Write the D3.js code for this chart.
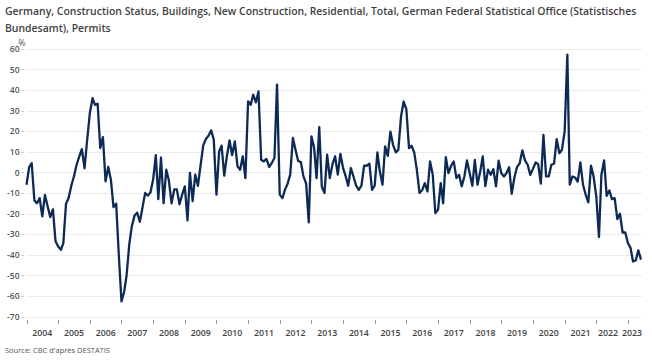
<!DOCTYPE html>
<html>
<head>
<meta charset="utf-8">
<script src="https://cdn.jsdelivr.net/npm/d3@7"></script>
<style>
  body { margin: 0; background: #fff; }
  svg { display: block; font-family: "Open Sans", "Noto Sans", sans-serif; }
</style>
</head>
<body>
<svg id="chart" width="652" height="362"></svg>
<script>
// chart data
var titleLines = [
  "Germany, Construction Status, Buildings, New Construction, Residential, Total, German Federal Statistical Office (Statistisches",
  "Bundesamt), Permits"
];
var unitLabel = "%";
var sourceText = "Source: CBC d'apr\u00e8s DESTATIS";

// first month of the monthly series
var startMonth = "2004-01";

// y/y change in permits, %, one value per month
var permits = [
  -6, 2.5, 4.5, -13.6, -15, -12.5, -21.4, -11, -16.6, -21.7, -18, -33.5,
  -36, -37.6, -34.4, -15.2, -12.5, -6.5, -2, 3.7, 7.7, 11.3, 2, 15.8,
  28.8, 36, 32.8, 33.3, 11.8, 17.1, -4.4, 2.6, -3.6, -16.9, -15.2, -40,
  -62.7, -58, -50, -35, -26, -21, -19.6, -24, -17, -10, -11.3, -9.8,
  -3.6, 8.3, -13, 7.2, -15, 1.3, -4, -15, -8.3, -8.3, -15.5, -10.8,
  -6.8, -23.3, -0.3, -14, -1.1, -6.5, 3.2, 13, 16.2, 17.8, 20.4, 15.9,
  -10.8, 10.2, 13, -1.6, 7.8, 15.5, 8.4, 15, 2.9, 1.3, 7.8, -2.8,
  34.5, 32.8, 37.7, 34, 39.3, 6.1, 5.3, 6.5, 2.6, 4.5, 7, 42.6,
  -10.8, -12.5, -8.5, -5.5, -1.1, 16.7, 11, 5.5, 5, -2, -5.5, -24.3,
  17.5, 12, -2.8, 22, -7, -10, 8.6, -2.8, 4, 7.8, -1.1, 9,
  2.1, -2, -6.5, 2.1, -2, -6.5, -8.5, -6.5, 3.2, 3.2, 4.2, -8.5,
  -6.5, 9.7, 0.5, -6, 12.6, 8, 19.8, 13.4, 9.7, 11, 27.1, 34.4,
  30.7, 11.8, 12.9, 9.7, 1.3, -10, -8.7, -5.2, -9.3, 5.3, -1.2, -19.8,
  -18.1, -5.2, -15, 7.4, -0.4, 3.2, 5.3, -2.8, -1.2, -6.8, -2, 5.8,
  -0.4, -6.5, 6, -6, 0, 7.7, -6.7, 1.3, -1.2, 1.5, -6.8, 5.7,
  -0.4, -2, -0.4, 2.5, -10.4, -2.5, 2.5, 4.4, 10.7, 5.8, 3.7, -1.2,
  1.7, 4.8, 4, -5.5, 18.2, -2, -2, 3.7, 4.2, 16.1, 9.3, 11,
  19.9, 57.1, -6, -2, -2.5, -4.5, 4.8, -6, -10.9, -14.6, 3.2, -2,
  -11.7, -31.4, -1.2, 5.8, -11.4, -8.8, -13, -12.5, -22.7, -20.1, -29.2, -29.2,
  -34.3, -36.8, -43.3, -42.8, -37.9, -42.4
];

var yTicks = [60, 50, 40, 30, 20, 10, 0, -10, -20, -30, -40, -50, -60, -70];
var yearLabels = ["2004", "2005", "2006", "2007", "2008", "2009", "2010", "2011", "2012", "2013",
  "2014", "2015", "2016", "2017", "2018", "2019", "2020", "2021", "2022", "2023"];

var svg = d3.select("#chart");
var parseMonth = d3.timeParse("%Y-%m");
var t0 = parseMonth(startMonth);

var data = permits.map(function(v, i) {
  return { date: d3.timeMonth.offset(t0, i), value: v };
});

var plotLeft = 26, plotRight = 642;

var x = d3.scaleTime()
  .domain(d3.extent(data, function(d) { return d.date; }))
  .range([26.5, 641]);

var y = d3.scaleLinear()
  .domain([-70, 60])
  .range([316.5, 48.8]);

// title -- the original face is condensed, so squeeze both lines by the
// factor that makes the first one fit its width
var titleG = svg.append("g");
var titleText = titleG.selectAll("text")
  .data(titleLines)
  .enter().append("text")
  .attr("x", 0)
  .attr("y", function(d, i) { return 15 + i * 17; })
  .attr("font-size", 11.5)
  .attr("font-weight", 600)
  .attr("fill", "#3f3f3f")
  .text(function(d) { return d; });
var natural = titleText.node().getComputedTextLength();
titleG.attr("transform", "translate(5,0) scale(" + (632 / natural) + ",1)");

svg.append("text")
  .attr("x", 22)
  .attr("y", 46)
  .attr("text-anchor", "middle")
  .attr("font-size", 9)
  .attr("fill", "#555")
  .text(unitLabel);

// horizontal grid + y labels
var yAxis = svg.append("g");
yAxis.selectAll("line.grid")
  .data(yTicks)
  .enter().append("line")
  .attr("class", "grid")
  .attr("x1", plotLeft)
  .attr("x2", plotRight)
  .attr("y1", function(d) { return Math.round(y(d)) + 0.5; })
  .attr("y2", function(d) { return Math.round(y(d)) + 0.5; })
  .attr("stroke", "#ebebeb")
  .attr("stroke-width", 1);

yAxis.selectAll("line.tick")
  .data(yTicks)
  .enter().append("line")
  .attr("class", "tick")
  .attr("x1", 21.5)
  .attr("x2", 24)
  .attr("y1", function(d) { return Math.round(y(d)) + 0.5; })
  .attr("y2", function(d) { return Math.round(y(d)) + 0.5; })
  .attr("stroke", "#c8c8c8");

yAxis.selectAll("text")
  .data(yTicks)
  .enter().append("text")
  .attr("x", 19.5)
  .attr("y", function(d) { return y(d) + 3.2; })
  .attr("text-anchor", "end")
  .attr("font-size", 8.5)
  .attr("font-weight", 600)
  .attr("fill", "#555")
  .text(function(d) { return d; });

// x axis: ticks at year starts, labels centred on each year's span
var xAxis = svg.append("g");
var yearStarts = yearLabels.map(function(yr) { return parseMonth(yr + "-01"); });

xAxis.selectAll("line")
  .data(yearStarts)
  .enter().append("line")
  .attr("x1", function(d) { return Math.round(x(d)) + 0.5; })
  .attr("x2", function(d) { return Math.round(x(d)) + 0.5; })
  .attr("y1", 320)
  .attr("y2", 324)
  .attr("stroke", "#999");

var lastYear = yearLabels.length - 1;
xAxis.selectAll("text")
  .data(yearLabels)
  .enter().append("text")
  .attr("x", function(d, i) {
    if (i === lastYear) return plotRight;   // partial year, pinned to the right edge
    var a = x(yearStarts[i]);
    var b = x(parseMonth((+d + 1) + "-01"));
    return (a + b) / 2 - (i === lastYear - 1 ? 4 : 0);
  })
  .attr("y", 336)
  .attr("text-anchor", function(d, i) { return i === lastYear ? "end" : "middle"; })
  .attr("font-size", 9.5)
  .attr("font-weight", 600)
  .attr("fill", "#404040")
  .attr("textLength", 20)
  .attr("lengthAdjust", "spacingAndGlyphs")
  .text(function(d) { return d; });

// the series
var line = d3.line()
  .x(function(d) { return x(d.date); })
  .y(function(d) { return y(d.value); });

svg.append("path")
  .datum(data)
  .attr("d", line)
  .attr("fill", "none")
  .attr("stroke", "#0c2a55")
  .attr("stroke-width", 2.3)
  .attr("stroke-linejoin", "round");

svg.append("text")
  .attr("x", 5)
  .attr("y", 353)
  .attr("font-size", 7.5)
  .attr("fill", "#555")
  .text(sourceText);
</script>
</body>
</html>
